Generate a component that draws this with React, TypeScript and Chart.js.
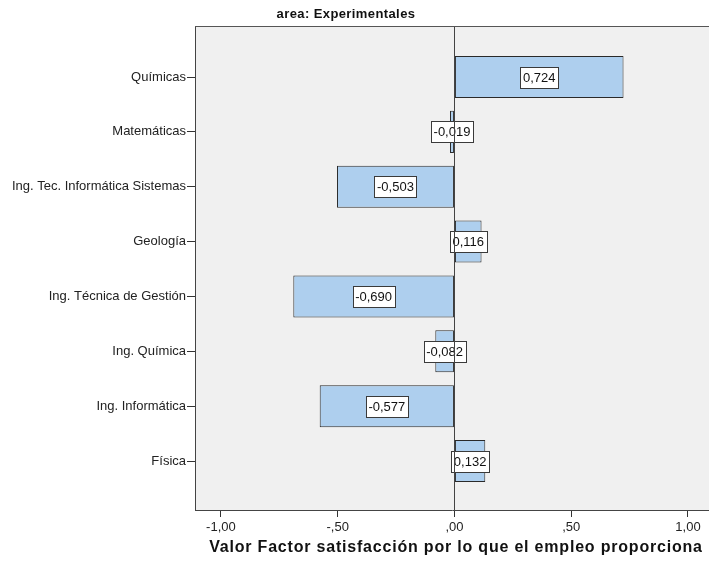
import React, { useEffect, useRef } from 'react';
import { Chart, registerables } from 'chart.js';
Chart.register(...registerables);

const categories = [
  'Químicas',
  'Matemáticas',
  'Ing. Tec. Informática Sistemas',
  'Geología',
  'Ing. Técnica de Gestión',
  'Ing. Química',
  'Ing. Informática',
  'Física',
];
const values = [0.724, -0.019, -0.503, 0.116, -0.69, -0.082, -0.577, 0.132];
const xTickValues = [-1, -0.5, 0, 0.5, 1];
const xTickLabels = ['-1,00', '-,50', ',00', ',50', '1,00'];
const chartTitle = 'area: Experimentales';
const xAxisTitle = 'Valor Factor satisfacción por lo que el empleo proporciona';

const FONT = '"Liberation Sans", Arial, sans-serif';

const fmt = (v: number) => v.toFixed(3).replace('.', ',');

const decorPlugin = {
  id: 'decor',
  beforeDraw(chart: any) {
    const { ctx, chartArea } = chart;
    ctx.save();
    ctx.fillStyle = '#ffffff';
    ctx.fillRect(0, 0, chart.width, chart.height);
    ctx.fillStyle = '#f0f0f0';
    ctx.fillRect(chartArea.left, chartArea.top, chartArea.right - chartArea.left, chartArea.bottom - chartArea.top);
    ctx.restore();
  },
  afterDatasetsDraw(chart: any) {
    const { ctx, chartArea } = chart;
    const meta = chart.getDatasetMeta(0);
    ctx.save();
    ctx.font = '13px ' + FONT;
    ctx.textAlign = 'center';
    ctx.textBaseline = 'middle';
    meta.data.forEach((bar: any, i: number) => {
      const p = bar.getProps(['x', 'y', 'base'], true);
      const cx = (p.x + p.base) / 2;
      const text = fmt(values[i]);
      const w = Math.round(ctx.measureText(text).width + 5);
      const h = 21;
      const lx = Math.round(cx - w / 2) + 0.5;
      const ly = Math.round(p.y - h / 2) + 0.5;
      ctx.fillStyle = '#ffffff';
      ctx.fillRect(lx, ly, w, h);
      ctx.strokeStyle = '#3a3a3a';
      ctx.lineWidth = 1;
      ctx.strokeRect(lx, ly, w, h);
      ctx.fillStyle = '#111111';
      ctx.fillText(text, cx, p.y + 1);
    });
    // zero line
    const xs = chart.scales.x;
    const zx = Math.round(xs.getPixelForValue(0)) + 0.5;
    ctx.strokeStyle = '#444444';
    ctx.lineWidth = 1;
    ctx.beginPath();
    ctx.moveTo(zx, chartArea.top);
    ctx.lineTo(zx, chartArea.bottom);
    ctx.stroke();
    // top border
    ctx.strokeStyle = '#555555';
    ctx.beginPath();
    ctx.moveTo(chartArea.left, chartArea.top + 0.5);
    ctx.lineTo(chartArea.right, chartArea.top + 0.5);
    ctx.stroke();
    ctx.restore();
  },
  afterDraw(chart: any) {
    const { ctx } = chart;
    ctx.save();
    ctx.fillStyle = '#111111';
    ctx.textAlign = 'center';
    ctx.textBaseline = 'middle';
    ctx.font = 'bold 13px ' + FONT;
    (ctx as any).letterSpacing = '0.4px';
    ctx.fillText(chartTitle, 346, 14);
    ctx.font = 'bold 16px ' + FONT;
    (ctx as any).letterSpacing = '0.8px';
    ctx.fillText(xAxisTitle, 456, 548);
    (ctx as any).letterSpacing = '0px';
    ctx.restore();
  },
};

export default function App() {
  const ref = useRef<HTMLCanvasElement | null>(null);
  useEffect(() => {
    if (!ref.current) return;
    const data = values.map((v, i) => ({ x: v, y: i }));
    const chart = new Chart(ref.current, {
      type: 'bar',
      data: {
        datasets: [
          {
            data: data as any,
            backgroundColor: '#aecfee',
            borderColor: '#2a2a2a',
            borderWidth: 1,
            borderSkipped: false,
            barPercentage: 0.766,
            categoryPercentage: 1,
          },
        ],
      },
      options: {
        indexAxis: 'y',
        animation: false,
        responsive: false,
        devicePixelRatio: 1,
        layout: { padding: { top: 26, left: 0, right: 0, bottom: 0 } },
        plugins: { legend: { display: false }, tooltip: { enabled: false }, title: { display: false } },
        scales: {
          x: {
            type: 'linear',
            min: -1.111,
            max: 1.09,
            offset: false,
            afterBuildTicks: (scale: any) => {
              scale.ticks = xTickValues.map((v) => ({ value: v }));
            },
            afterFit: (scale: any) => {
              scale.height = 57;
            },
            ticks: {
              autoSkip: false,
              maxRotation: 0,
              padding: 3,
              color: '#222222',
              font: { family: FONT, size: 13 },
              callback: (v: any) => {
                const idx = xTickValues.indexOf(Number(v));
                return idx >= 0 ? xTickLabels[idx] : '';
              },
            },
            grid: { drawOnChartArea: false, drawTicks: true, tickLength: 7, tickColor: '#333333', offset: false },
            border: { display: true, color: '#444444', width: 1 },
          },
          y: {
            type: 'linear',
            reverse: true,
            min: -0.93,
            max: 7.893,
            offset: false,
            afterBuildTicks: (scale: any) => {
              scale.ticks = categories.map((_, i) => ({ value: i }));
            },
            afterFit: (scale: any) => {
              scale.width = 195;
            },
            ticks: {
              autoSkip: false,
              padding: 1,
              color: '#222222',
              font: { family: FONT, size: 13 },
              callback: (v: any) => categories[Number(v)] ?? '',
            },
            grid: { drawOnChartArea: false, drawTicks: true, tickLength: 8, tickColor: '#333333', offset: false },
            border: { display: true, color: '#444444', width: 1 },
          },
        },
      },
      plugins: [decorPlugin],
    });
    return () => chart.destroy();
  }, []);
  return (
    <div style={{ position: 'fixed', left: 0, top: 0, width: 709, height: 567, background: '#fff' }}>
      <canvas ref={ref} width={709} height={567} style={{ display: 'block', width: 709, height: 567 }} />
    </div>
  );
}
